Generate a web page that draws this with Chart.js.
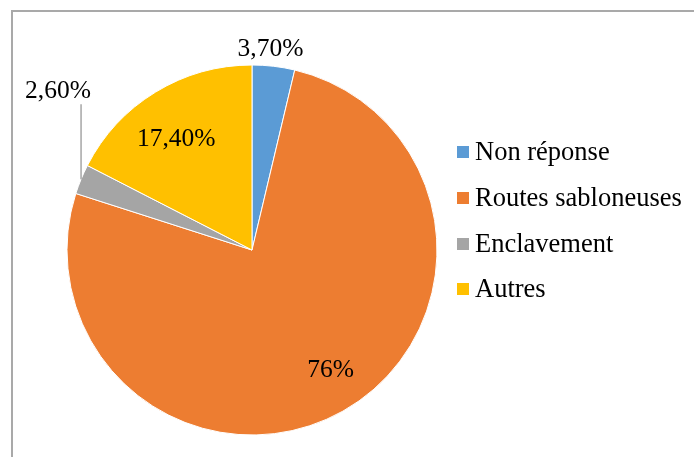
<!DOCTYPE html>
<html>
<head>
<meta charset="utf-8">
<script src="https://cdn.jsdelivr.net/npm/chart.js@4.4.0/dist/chart.umd.min.js"></script>
<style>
  html, body { margin: 0; padding: 0; background: #fff; }
  #wrap { position: relative; width: 694px; height: 457px; overflow: hidden; }
  #frame {
    position: absolute; left: 11px; top: 10px; right: 0; bottom: 0;
    border-top: 2px solid #a9a9a9; border-left: 2px solid #a9a9a9;
  }
  #pie { position: absolute; left: 0; top: 0; }
</style>
</head>
<body>
<div id="wrap">
  <div id="frame"></div>
  <canvas id="pie" width="694" height="457"></canvas>
</div>
<script>
const categories = ['Non réponse', 'Routes sabloneuses', 'Enclavement', 'Autres'];
const shares = [3.7, 76, 2.6, 17.4];
const shareLabels = ['3,70%', '76%', '2,60%', '17,40%'];
const sliceColors = ['#5b9bd5', '#ed7d31', '#a5a5a5', '#ffc000'];

const LABEL_FONT = '25.5px "Liberation Serif", "Times New Roman", serif';
const LEGEND_FONT = '26.5px "Liberation Serif", "Times New Roman", serif';

// where each value label sits: r = fraction of the radius along the slice's mid angle
const labelPlacement = [
  { r: 1.09, dx: -5, dy: 0 },
  { r: 0.744, dx: 11, dy: 0 },
  { leader: true, len: 75, dx: -23, dy: -88 },
  { r: 0.703, dx: -8, dy: 0 }
];

const sliceLabels = {
  id: 'sliceLabels',
  afterDatasetsDraw(chart) {
    const ctx = chart.ctx;
    const arcs = chart.getDatasetMeta(0).data;
    ctx.save();
    ctx.font = LABEL_FONT;
    ctx.fillStyle = '#000';
    ctx.textAlign = 'center';
    ctx.textBaseline = 'middle';
    arcs.forEach((arc, i) => {
      const p = labelPlacement[i];
      const mid = (arc.startAngle + arc.endAngle) / 2;
      if (p.leader) {
        const ax = arc.x + Math.cos(mid) * arc.outerRadius;
        const ay = arc.y + Math.sin(mid) * arc.outerRadius;
        ctx.strokeStyle = '#a6a6a6';
        ctx.lineWidth = 1.5;
        ctx.beginPath();
        ctx.moveTo(ax, ay);
        ctx.lineTo(ax, ay - p.len);
        ctx.stroke();
        ctx.fillText(shareLabels[i], ax + p.dx, ay + p.dy);
      } else {
        const x = arc.x + Math.cos(mid) * arc.outerRadius * p.r + p.dx;
        const y = arc.y + Math.sin(mid) * arc.outerRadius * p.r + p.dy;
        ctx.fillText(shareLabels[i], x, y);
      }
    });
    ctx.restore();
  }
};

// legend on the right: colored square then the category name
const sideLegend = {
  id: 'sideLegend',
  afterDraw(chart) {
    const ctx = chart.ctx;
    const rowsY = [152, 198, 244, 289];
    ctx.save();
    ctx.font = LEGEND_FONT;
    ctx.textAlign = 'left';
    ctx.textBaseline = 'middle';
    categories.forEach((name, i) => {
      const y = rowsY[i];
      ctx.fillStyle = sliceColors[i];
      ctx.fillRect(457, y - 6, 12, 12);
      ctx.fillStyle = '#000';
      ctx.fillText(name, 475, y + 1);
    });
    ctx.restore();
  }
};

new Chart(document.getElementById('pie'), {
  type: 'pie',
  data: {
    labels: categories,
    datasets: [{
      data: shares,
      backgroundColor: sliceColors,
      borderColor: '#ffffff',
      borderWidth: 1,
      radius: 185,
      hoverOffset: 0
    }]
  },
  options: {
    responsive: false,
    animation: false,
    devicePixelRatio: 1,
    layout: { padding: { left: 0, right: 190, top: 43, bottom: 0 } },
    plugins: {
      legend: { display: false },
      tooltip: { enabled: false }
    }
  },
  plugins: [sliceLabels, sideLegend]
});
</script>
</body>
</html>
